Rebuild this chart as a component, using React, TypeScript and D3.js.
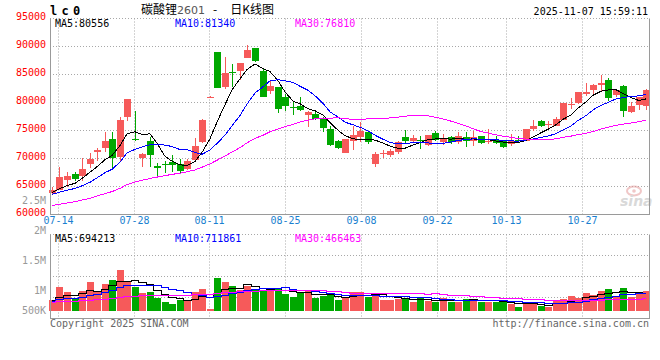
import React from "react";
import * as d3 from "d3";

const dates = ["07-11","07-14","07-15","07-16","07-17","07-18","07-21","07-22","07-23","07-24","07-25","07-28","07-29","07-30","07-31","08-01","08-04","08-05","08-06","08-07","08-08","08-11","08-12","08-13","08-14","08-15","08-18","08-19","08-20","08-21","08-22","08-25","08-26","08-27","08-28","08-29","09-01","09-02","09-03","09-04","09-05","09-08","09-09","09-10","09-11","09-12","09-15","09-16","09-17","09-18","09-19","09-22","09-23","09-24","09-25","09-26","09-29","09-30","10-09","10-10","10-13","10-14","10-15","10-16","10-17","10-20","10-21","10-22","10-23","10-24","10-27","10-28","10-29","10-30","10-31","11-03","11-04","11-05","11-06","11-07"];

const opens = [63800,64460,66130,67320,66790,69050,71130,71850,73570,70240,77440,73400,70120,73100,68630,69050,69290,68930,68150,69760,72920,81000,88930,82740,85500,85600,87980,89700,85710,82020,82740,81070,79250,79350,77680,77860,77020,75240,73040,71070,73210,73810,74700,68930,71000,70540,71130,73810,73100,73250,72440,74580,73000,73810,72920,73870,73040,74050,73150,73390,73100,72620,73330,73160,75180,76610,76130,75890,76960,79640,79880,81490,82200,83040,83930,81310,82860,78390,79580,79350];
const highs = [64900,68450,67560,67560,70060,71070,71900,74700,74820,77500,80660,78570,70900,73810,69170,69640,70710,69940,69940,73630,77080,81100,88930,88100,86900,87100,90180,89700,86000,83930,82740,81550,80240,81070,78570,78270,77500,75890,73330,73510,75890,76490,74880,71130,71430,71730,73210,75120,74110,73930,74110,75000,74400,73930,74700,74700,74880,74050,75300,73930,73210,74400,73930,75180,76960,76790,76610,77500,80000,80830,81960,83510,83330,85000,84400,82380,83040,80060,81070,82440];
const lows = [63400,64300,64880,66070,66070,68330,69640,71130,67860,69350,76700,73150,68570,68450,66670,67500,67560,67260,68030,69520,72800,81000,82560,82440,82740,84050,87900,87200,80950,81550,78100,78570,77680,78570,75710,76790,74700,72260,71730,71070,71430,72920,72620,68570,70120,70240,70830,72740,72860,71730,72320,73210,72450,72620,72620,72140,72320,72620,72620,72620,71850,72320,72740,73040,74880,75600,75180,75830,76960,78870,79760,81190,81370,82140,80240,81070,77500,78100,78690,78690];
const closes = [64300,66670,66790,66310,68040,70000,71490,73100,70120,76790,80540,73250,70830,70600,68330,68930,68870,67740,69640,72260,76960,81070,82560,85180,85400,87020,89290,87500,80950,82860,78870,79350,79170,78690,78270,77140,75480,72500,71850,73510,74230,74880,72920,70830,71070,71310,72920,73040,73690,73150,74110,73390,73690,72920,74050,73040,73870,72740,73210,72800,72140,73040,73040,75180,75830,75890,76190,77080,80000,79700,81960,81790,83040,83570,80830,82200,78450,79290,80950,82320];
const volumes = [426000,940000,735000,453000,774000,1122000,774000,1057000,1200000,1587000,1111000,917000,708000,747000,515000,360000,283000,426000,426000,747000,863000,89000,1289000,1134000,979000,813000,979000,813000,813000,813000,863000,646000,553000,747000,786000,491000,580000,600000,426000,491000,747000,747000,553000,708000,426000,426000,464000,491000,360000,491000,387000,360000,515000,360000,360000,464000,464000,360000,360000,360000,360000,259000,155000,298000,321000,205000,166000,387000,464000,580000,515000,708000,619000,774000,851000,580000,902000,530000,685000,774000];

// sessions before the first visible candle (only used for the moving averages)
const priorCloses = [59800,59500,59200,59600,59900,60100,59700,59400,59600,60000,60300,60800,61200,60900,61300,61700,62000,61800,62200,62600,62900,63200,63000,63400,63700,63500,63900,64200,63800];
const priorVolumes = [300000,320000,280000,310000,350000,330000,290000,340000,360000,310000,320000,300000,330000,350000,310000,290000,320000,340000,330000,300000,280000,310000,300000,290000,330000,420000,450000,400000,430000];

const priceTicks = [95000,90000,85000,80000,75000,70000,65000,60000];
const priceGrid = [90000,85000,80000,75000,70000,65000];
const dateTicks = ["07-14","07-28","08-11","08-25","09-08","09-22","10-13","10-27"];
const volLabelValues = [2500000,2000000,1500000,1000000,500000];
const volLabelTexts = ["2.5M","2M","1.5M","1M","500K"];
const maPeriods = [5,10,30];
const maColors = ["#000000","#0000ff","#ff00ff"];
const priceMaTexts = ["MA5:80556","MA10:81340","MA30:76810"];
const volMaTexts = ["MA5:694213","MA10:711861","MA30:466463"];

const UP = "#f65a5a";
const DOWN = "#00a800";
const GRID = "#a8a8a8";
const AXIS = "#9a9a9a";
const MONO = "'DejaVu Sans Mono', 'Liberation Mono', monospace";

function movingAverage(prior: number[], values: number[], n: number): number[] {
  const all = prior.concat(values);
  return values.map((_, i) => {
    const end = prior.length + i + 1;
    const slice = all.slice(Math.max(0, end - n), end);
    return d3.mean(slice) as number;
  });
}

export default function App() {
  const L = 50, R = 650;
  const mainTop = 18.5, mainBottom = 214.5;
  const volTop = 234.5, volBottom = 318.5;

  const x = d3.scaleBand<string>().domain(dates).range([48.2, 649.8]).paddingInner(0.2).paddingOuter(0.1);
  const cx = (i: number) => Math.round((x(dates[i]) as number) + x.bandwidth() / 2);
  const gridX = d3.scaleLinear().domain([0, dates.length - 1]).range([L, R]);
  const y = d3.scaleLinear().domain([60000, 95000]).range([mainBottom, mainTop]);
  const yVol = d3.scaleLinear().domain([0, 1000000]).range([311, 311 - 25.84]);
  const yVolLabel = d3.scaleLinear().domain([0, 2500000]).range([354, 204]);

  const priceMAs = maPeriods.map((n) => movingAverage(priorCloses, closes, n));
  const volMAs = maPeriods.map((n) => movingAverage(priorVolumes, volumes, n));

  const priceLine = d3.line<number>().x((_, i) => cx(i)).y((v) => y(v));
  const volLine = d3.line<number>().x((_, i) => cx(i)).y((v) => yVol(v)).curve(d3.curveStep);

  const bw = 6;

  return (
    <svg width={660} height={360} style={{ position: "absolute", left: 0, top: 0, background: "#fff" }}>
      <rect x={0} y={0} width={660} height={360} fill="#fff" />
      {/* header */}
      <text x={50} y={15} fontFamily={MONO} fontWeight="bold" fontSize={12} letterSpacing={4.3} fill="#000">lc0</text>
      <text x={141} y={14} fontSize={12} fontFamily="'Noto Sans CJK SC', sans-serif" fill="#000">
        碳酸锂<tspan fill="#555" fontFamily="'DejaVu Sans', sans-serif" fontSize={11}>2601</tspan><tspan dx={8}>-</tspan><tspan dx={13}>日K线图</tspan>
      </text>
      <text x={648} y={15} textAnchor="end" fontFamily={MONO} fontSize={10} fill="#000">2025-11-07 15:59:11</text>

      {/* main grid */}
      <line x1={L} x2={R} y1={mainTop} y2={mainTop} stroke={GRID} strokeDasharray="1,2" />
      {priceGrid.map((v) => (
        <line key={v} x1={L} x2={R} y1={y(v)} y2={y(v)} stroke={GRID} strokeDasharray="1,2" />
      ))}
      {dateTicks.map((d) => {
        const gx = Math.round(gridX(dates.indexOf(d))) + 0.5;
        return (
          <g key={d}>
            <line x1={gx} x2={gx} y1={mainTop} y2={mainBottom} stroke={GRID} strokeDasharray="1,2" />
            <line x1={gx} x2={gx} y1={volTop} y2={volBottom} stroke={GRID} strokeDasharray="1,2" />
            <text x={gx} y={224} textAnchor="middle" fontFamily={MONO} fontSize={10} fill="#1a7fd0">{d}</text>
          </g>
        );
      })}
      {/* volume grid */}
      <line x1={L} x2={R} y1={volTop} y2={volTop} stroke={GRID} strokeDasharray="1,2" />
      {[255.5, 276.5, 297.5].map((gy) => (
        <line key={gy} x1={L} x2={R} y1={gy} y2={gy} stroke={GRID} strokeDasharray="1,2" />
      ))}

      {/* price labels */}
      {priceTicks.map((v) => (
        <text key={v} x={46} y={y(v) + 1} textAnchor="end" fontFamily={MONO} fontSize={10} fill="#ff0000">{v}</text>
      ))}
      {/* volume labels */}
      {volLabelValues.map((v, i) => (
        <text key={v} x={46} y={Math.min(yVolLabel(v), 314)} textAnchor="end" fontFamily={MONO} fontSize={10} fill="#999">{volLabelTexts[i]}</text>
      ))}

      {/* watermark */}
      <g opacity={0.55}>
        <ellipse cx={634} cy={191} rx={7} ry={4.5} fill="none" stroke="#e59a9a" strokeWidth={2} />
        <circle cx={634} cy={191} r={1.8} fill="#e59a9a" />
        <text x={620} y={206} fontFamily="'DejaVu Sans', sans-serif" fontStyle="italic" fontWeight="bold" fontSize={14} fill="#bbb">sina</text>
      </g>

      {/* candles */}
      {dates.map((d, i) => {
        const o = opens[i], c = closes[i], h = highs[i], l = lows[i];
        const up = c >= o;
        const col = up ? UP : DOWN;
        const px = cx(i);
        const top = Math.round(y(Math.max(o, c)));
        const bot = Math.round(y(Math.min(o, c)));
        return (
          <g key={d}>
            <rect x={px} y={Math.round(y(h))} width={1} height={Math.max(1, Math.round(y(l)) - Math.round(y(h)))} fill={col} />
            <rect x={px - 3} y={top} width={bw + 1} height={Math.max(1, bot - top)} fill={col} />
          </g>
        );
      })}
      {priceMAs.map((ma, k) => (
        <path key={k} d={priceLine(ma) as string} fill="none" stroke={maColors[k]} strokeWidth={1} shapeRendering="crispEdges" />
      ))}

      {/* volume bars */}
      {dates.map((d, i) => {
        const up = closes[i] >= opens[i];
        const px = cx(i);
        const top = Math.round(yVol(volumes[i]));
        return <rect key={d} x={px - 3} y={top} width={bw + 1} height={311 - top} fill={up ? UP : DOWN} />;
      })}
      {volMAs.map((ma, k) => (
        <path key={k} d={volLine(ma) as string} fill="none" stroke={maColors[k]} strokeWidth={1} shapeRendering="crispEdges" />
      ))}

      {/* axes / frames */}
      <line x1={L + 0.5} x2={L + 0.5} y1={mainTop} y2={mainBottom} stroke={AXIS} />
      <line x1={R - 0.5} x2={R - 0.5} y1={mainTop} y2={mainBottom} stroke={AXIS} />
      <line x1={L} x2={R} y1={mainBottom} y2={mainBottom} stroke={AXIS} />
      <line x1={L + 0.5} x2={L + 0.5} y1={volTop} y2={volBottom} stroke={AXIS} />
      <line x1={R - 0.5} x2={R - 0.5} y1={volTop} y2={volBottom} stroke={AXIS} />
      <line x1={L} x2={R} y1={volBottom} y2={volBottom} stroke={AXIS} />

      {/* MA legends */}
      {priceMaTexts.map((t, k) => (
        <text key={t} x={55 + k * 120} y={27} fontFamily={MONO} fontSize={10} fill={maColors[k]}>{t}</text>
      ))}
      {volMaTexts.map((t, k) => (
        <text key={t} x={55 + k * 120} y={242} fontFamily={MONO} fontSize={10} fill={maColors[k]}>{t}</text>
      ))}

      {/* footer */}
      <text x={50} y={327} fontFamily={MONO} fontSize={10} fill="#666">Copyright 2025 SINA.COM</text>
      <text x={649} y={327} textAnchor="end" fontFamily={MONO} fontSize={10} fill="#666">http://finance.sina.com.cn</text>
    </svg>
  );
}
